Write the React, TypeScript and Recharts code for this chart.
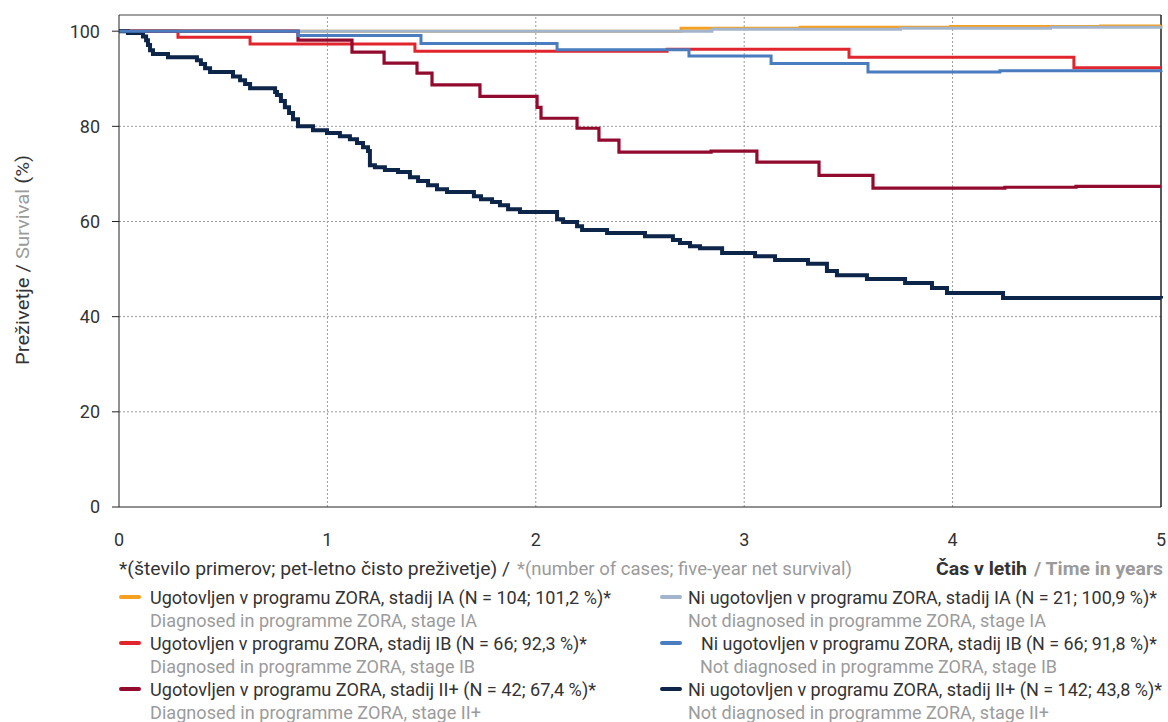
import React from "react";
import {
  LineChart,
  Line,
  XAxis,
  YAxis,
  ReferenceLine,
} from "recharts";

// time in years / net survival in %
const iaDiagT = [0, 2.697, 3.268, 3.99, 4.71, 5];
const iaDiagS = [100, 100.6, 100.8, 101.0, 101.1, 101.2];

const iaNotT = [0, 2.845, 3.75, 4.47, 5];
const iaNotS = [100, 100.4, 100.6, 100.8, 100.9];

const ibDiagT = [0, 0.283, 0.629, 1.42, 2.63, 3.503, 4.582, 5];
const ibDiagS = [100, 98.7, 97.3, 95.8, 96.2, 94.5, 92.3, 92.3];

const ibNotT = [0, 0.859, 1.449, 2.102, 2.735, 3.129, 3.594, 4.227, 5];
const ibNotS = [100, 99.1, 97.4, 96.1, 94.8, 93.2, 91.4, 91.7, 91.8];

const iiDiagT = [
  0, 0.859, 1.118, 1.272, 1.43, 1.502, 1.732, 2.006, 2.025, 2.198, 2.303,
  2.399, 2.841, 3.061, 3.359, 3.618, 4.251, 4.592, 5,
];
const iiDiagS = [
  100, 98.1, 95.6, 93.3, 91.2, 88.7, 86.3, 84.0, 81.7, 79.6, 77.1, 74.6, 74.8,
  72.5, 69.7, 67.0, 67.2, 67.4, 67.4,
];

const iiNotT = [
  0, 0.043, 0.115, 0.13, 0.139, 0.149, 0.163, 0.235, 0.374, 0.393, 0.413,
  0.437, 0.547, 0.581, 0.605, 0.629, 0.749, 0.758, 0.777, 0.796, 0.816, 0.835,
  0.859, 0.931, 0.998, 1.06, 1.108, 1.142, 1.171, 1.195, 1.204, 1.228, 1.276,
  1.339, 1.396, 1.435, 1.483, 1.526, 1.574, 1.703, 1.737, 1.79, 1.828, 1.867,
  1.924, 2.102, 2.131, 2.198, 2.222, 2.342, 2.524, 2.658, 2.692, 2.74, 2.788,
  2.894, 3.052, 3.148, 3.306, 3.397, 3.445, 3.589, 3.772, 3.901, 3.973, 4.242,
  5,
];
const iiNotS = [
  100, 99.6, 98.9, 98.1, 97.1, 96.0, 95.2, 94.5, 93.9, 93.1, 92.2, 91.4, 90.5,
  89.7, 88.9, 88.0, 87.2, 86.6, 85.3, 84.0, 82.8, 81.5, 80.0, 79.2, 78.6, 77.9,
  77.3, 76.5, 75.6, 74.8, 71.8, 71.4, 70.8, 70.4, 69.3, 68.5, 67.6, 66.8, 66.2,
  65.3, 64.7, 64.1, 63.4, 62.6, 62.0, 60.5, 59.9, 59.0, 58.2, 57.6, 56.9, 56.1,
  55.5, 54.8, 54.4, 53.4, 52.7, 51.9, 51.1, 49.6, 48.7, 47.9, 47.1, 46.0, 45.0,
  43.9, 43.8,
];

const xTicks = [0, 1, 2, 3, 4, 5];
const yTicks = [0, 20, 40, 60, 80, 100];
const xGrid = [1, 2, 3, 4];
const yGrid = [20, 40, 60, 80];

const legendMain = [
  "Ugotovljen v programu ZORA, stadij IA (N = 104; 101,2 %)*",
  "Ugotovljen v programu ZORA, stadij IB (N = 66; 92,3 %)*",
  "Ugotovljen v programu ZORA, stadij II+ (N = 42; 67,4 %)*",
  "Ni ugotovljen v programu ZORA, stadij IA (N = 21; 100,9 %)*",
  "Ni ugotovljen v programu ZORA, stadij IB (N = 66; 91,8 %)*",
  "Ni ugotovljen v programu ZORA, stadij II+ (N = 142; 43,8 %)*",
];
const legendSub = [
  "Diagnosed in programme ZORA, stage IA",
  "Diagnosed in programme ZORA, stage IB",
  "Diagnosed in programme ZORA, stage II+",
  "Not diagnosed in programme ZORA, stage IA",
  "Not diagnosed in programme ZORA, stage IB",
  "Not diagnosed in programme ZORA, stage II+",
];
const legendColors = ["#f5a01e", "#e0262c", "#920a2e", "#a2b5cd", "#4a7cc0", "#0c2548"];

// text box layout (x start, measured width) for the condensed legend type
const mainX = [150, 150, 150, 688, 701, 688];
const mainW = [461, 437, 446, 469, 456, 474];
const subX = [150, 150, 150, 688, 700, 688];
const subW = [327, 325, 331, 358, 357, 361];

const pts = (t: number[], s: number[]) => t.map((x, i) => ({ t: x, s: s[i] }));

const series = [
  { key: "iaDiag", data: pts(iaDiagT, iaDiagS), color: "#f5a01e", w: 3 },
  { key: "iaNot", data: pts(iaNotT, iaNotS), color: "#a2b5cd", w: 3 },
  { key: "ibDiag", data: pts(ibDiagT, ibDiagS), color: "#e0262c", w: 3 },
  { key: "iiDiag", data: pts(iiDiagT, iiDiagS), color: "#920a2e", w: 3.2 },
  { key: "iiNot", data: pts(iiNotT, iiNotS), color: "#0c2548", w: 4 },
  { key: "ibNot", data: pts(ibNotT, ibNotS), color: "#4a7cc0", w: 3 },
];

const FONT = 'Roboto, "Noto Sans", sans-serif';
const DARK = "#333333";
const GREY = "#9b9b9b";

const YLabel = () => (
  <text
    x={22}
    y={260}
    transform="rotate(-90 22 260)"
    textAnchor="middle"
    dominantBaseline="central"
    textLength={210}
    lengthAdjust="spacingAndGlyphs"
    style={{ fontFamily: FONT, fontSize: 18 }}
  >
    <tspan fill={DARK}>Preživetje / </tspan>
    <tspan fill={GREY}>Survival</tspan>
    <tspan fill={DARK}> (%)</tspan>
  </text>
);

const T = (p: {
  x: number;
  y: number;
  w: number;
  fill: string;
  bold?: boolean;
  children: React.ReactNode;
}) => (
  <text
    x={p.x}
    y={p.y}
    fill={p.fill}
    dominantBaseline="central"
    textLength={p.w}
    lengthAdjust="spacingAndGlyphs"
    style={{ fontFamily: FONT, fontSize: 18, fontWeight: p.bold ? 700 : 400 }}
  >
    {p.children}
  </text>
);

export default function App() {
  const tickStyle = { fill: DARK, fontSize: 18, fontFamily: FONT };
  return (
    <div
      style={{
        position: "absolute",
        left: 0,
        top: 0,
        width: 1168,
        height: 722,
        background: "#fff",
        overflow: "hidden",
      }}
    >
      <LineChart
        width={1168}
        height={560}
        margin={{ top: 15, right: 7, left: 0, bottom: 23 }}
      >
        <XAxis
          xAxisId="b"
          type="number"
          dataKey="t"
          domain={[0, 5]}
          ticks={xTicks}
          height={30}
          stroke="#222"
          tickLine={false}
          tickMargin={20}
          tick={tickStyle}
        />
        <YAxis
          yAxisId="l"
          type="number"
          domain={[0, 103.4]}
          ticks={yTicks}
          width={119}
          stroke="#222"
          tickSize={7}
          tickMargin={12}
          tick={tickStyle}
          allowDataOverflow
          label={<YLabel />}
        />
        {xGrid.map((v) => (
          <ReferenceLine key={"gx" + v} xAxisId="b" yAxisId="l" x={v} stroke="#9a9a9a" strokeDasharray="2 2" />
        ))}
        {yGrid.map((v) => (
          <ReferenceLine key={"gy" + v} xAxisId="b" yAxisId="l" y={v} stroke="#9a9a9a" strokeDasharray="2 2" />
        ))}
        <ReferenceLine xAxisId="b" yAxisId="l" y={103.4} stroke="#444" strokeWidth={1} />
        <ReferenceLine xAxisId="b" yAxisId="l" x={5} stroke="#222" strokeWidth={1.5} />
        {series.map((s) => (
          <Line
            key={s.key}
            xAxisId="b"
            yAxisId="l"
            data={s.data}
            dataKey="s"
            type="stepAfter"
            stroke={s.color}
            strokeWidth={s.w}
            dot={false}
            activeDot={false}
            isAnimationActive={false}
          />
        ))}
      </LineChart>

      <svg
        width={1168}
        height={722}
        style={{ position: "absolute", left: 0, top: 0, pointerEvents: "none" }}
      >
        <T x={119} y={568} w={391} fill={DARK}>
          *(število primerov; pet-letno čisto preživetje) /
        </T>
        <T x={517} y={568} w={335} fill={GREY}>
          *(number of cases; five-year net survival)
        </T>
        <T x={936} y={568} w={91} fill={DARK} bold>
          Čas v letih
        </T>
        <T x={1034} y={568} w={129} fill={GREY} bold>
          / Time in years
        </T>

        {legendMain.map((label, i) => {
          const col = i < 3 ? 0 : 1;
          const row = i % 3;
          const swX = col === 0 ? 119 : 660;
          const y = 597 + row * 46;
          return (
            <g key={label}>
              <line
                x1={swX + 2}
                x2={swX + 20}
                y1={y}
                y2={y}
                stroke={legendColors[i]}
                strokeWidth={4}
                strokeLinecap="round"
              />
              <T x={mainX[i]} y={y} w={mainW[i]} fill={DARK}>
                {label}
              </T>
              <T x={subX[i]} y={y + 23} w={subW[i]} fill={GREY}>
                {legendSub[i]}
              </T>
            </g>
          );
        })}
      </svg>
    </div>
  );
}
